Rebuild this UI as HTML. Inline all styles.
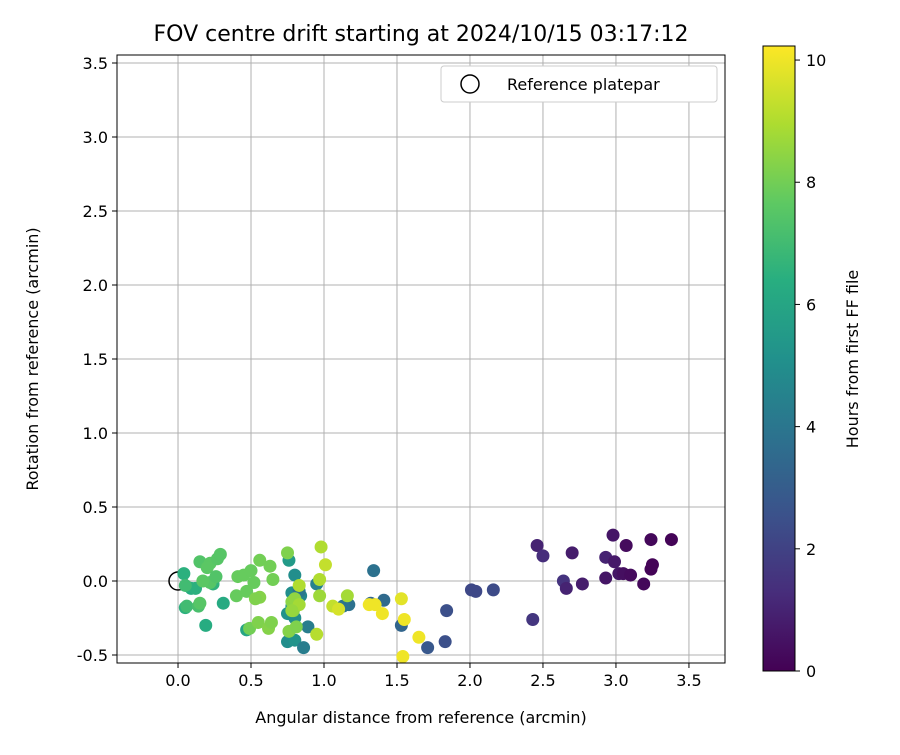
<!DOCTYPE html>
<html><head><meta charset="utf-8"><style>
body{margin:0;background:#fff;font-family:"Liberation Sans","DejaVu Sans",sans-serif}
svg text{font-family:"DejaVu Sans","Liberation Sans",sans-serif;fill:#000}
</style></head><body>
<svg id="chart" width="900" height="750" viewBox="0 0 900 750">
<defs><linearGradient id="vir" x1="0" y1="1" x2="0" y2="0">
<stop offset="0" stop-color="#440154"/><stop offset="0.125" stop-color="#472d7b"/><stop offset="0.25" stop-color="#3b528b"/><stop offset="0.375" stop-color="#2c728e"/><stop offset="0.5" stop-color="#21918c"/><stop offset="0.625" stop-color="#28ae80"/><stop offset="0.75" stop-color="#5ec962"/><stop offset="0.875" stop-color="#addc30"/><stop offset="1" stop-color="#fde725"/></linearGradient></defs>
<text x="421" y="41" font-size="22" text-anchor="middle">FOV centre drift starting at 2024/10/15 03:17:12</text>
<g id="grid"></g><g id="pts"></g><g id="axes"></g>
<text x="421" y="723" font-size="16" text-anchor="middle">Angular distance from reference (arcmin)</text>
<text transform="translate(38,359) rotate(-90)" font-size="16" text-anchor="middle">Rotation from reference (arcmin)</text>
<g>
<rect x="441" y="66" width="276" height="36" rx="3" fill="#fff" stroke="#ccc"/>
<circle cx="470" cy="84" r="9" fill="none" stroke="#000" stroke-width="1.5"/>
<text x="507" y="90" font-size="16">Reference platepar</text></g>
<rect x="763" y="46" width="32" height="625" fill="url(#vir)" stroke="#000" stroke-width="1"/>
<g id="cbticks"></g>
<text transform="translate(858,359) rotate(-90)" font-size="16" text-anchor="middle">Hours from first FF file</text>
</svg>
<script>
const xTicks=[0.0,0.5,1.0,1.5,2.0,2.5,3.0,3.5];
const yTicks=[-0.5,0.0,0.5,1.0,1.5,2.0,2.5,3.0,3.5];
const cTicks=[0,2,4,6,8,10];
const px=[2.46,2.50,2.43,2.64,2.66,2.70,2.77,2.93,2.93,2.98,2.99,3.02,3.05,3.07,3.10,3.19,3.24,3.24,3.25,3.38,2.01,2.04,2.16,1.84,1.83,1.71,1.53,1.41,1.34,1.32,1.17,1.13,0.76,0.80,0.78,0.82,0.84,0.78,0.75,0.80,0.75,0.80,0.86,0.89,0.83,0.95,0.47,0.31,0.19,0.04,0.05,0.09,0.12,0.24,0.15,0.22,0.27,0.29,0.20,0.22,0.17,0.26,0.05,0.06,0.14,0.15,0.41,0.45,0.50,0.52,0.40,0.47,0.56,0.63,0.65,0.56,0.53,0.49,0.55,0.62,0.64,0.75,0.78,0.79,0.80,0.83,0.76,0.81,0.78,0.83,0.97,0.97,0.95,0.98,1.01,1.16,1.06,1.10,1.31,1.35,1.40,1.53,1.55,1.65,1.54];
const py=[0.24,0.17,-0.26,0.0,-0.05,0.19,-0.02,0.16,0.02,0.31,0.13,0.05,0.05,0.24,0.04,-0.02,0.28,0.08,0.11,0.28,-0.06,-0.07,-0.06,-0.20,-0.41,-0.45,-0.30,-0.13,0.07,-0.15,-0.16,-0.17,0.14,0.04,-0.08,-0.13,-0.10,-0.17,-0.22,-0.25,-0.41,-0.40,-0.45,-0.31,-0.07,-0.02,-0.33,-0.15,-0.30,0.05,-0.18,-0.05,-0.05,-0.02,0.13,0.12,0.15,0.18,0.09,-0.01,0.0,0.03,-0.03,-0.17,-0.17,-0.15,0.03,0.04,0.07,-0.01,-0.10,-0.07,0.14,0.10,0.01,-0.11,-0.12,-0.32,-0.28,-0.32,-0.28,0.19,-0.14,-0.20,-0.12,-0.16,-0.34,-0.31,-0.20,-0.03,0.01,-0.10,-0.36,0.23,0.11,-0.10,-0.17,-0.19,-0.16,-0.16,-0.22,-0.12,-0.26,-0.38,-0.51];
const ph=[1.0,1.3,1.6,1.5,1.0,0.8,0.8,1.0,0.6,0.6,0.7,0.6,0.4,0.3,0.3,0.2,0.2,0.1,0.1,0.1,2.2,2.2,2.3,2.5,2.5,2.8,3.3,3.5,3.8,3.3,3.8,3.9,5.5,5.0,5.0,4.5,4.6,5.2,5.2,5.0,5.0,5.2,4.3,4.3,4.0,4.5,6.0,6.2,6.3,6.5,6.5,6.3,6.5,6.6,7.4,7.6,7.5,7.5,7.6,7.5,7.6,7.4,7.0,7.0,7.2,7.5,7.8,7.8,7.8,7.8,7.8,7.8,8.0,8.0,8.0,8.3,8.2,8.0,8.2,8.3,8.2,8.2,8.4,8.4,8.5,8.8,8.3,8.2,8.6,9.0,9.0,8.7,9.1,9.0,9.3,8.8,9.3,9.6,10,10,10,9.8,10,10,10];
const X0=117,X1=725,Y0=663,Y1=55,xmin=-0.418,xmax=3.747,ymin=-0.554,ymax=3.554,cmax=10.23;
const sx=v=>X0+(v-xmin)/(xmax-xmin)*(X1-X0);
const sy=v=>Y0-(v-ymin)/(ymax-ymin)*(Y0-Y1);
const sc=v=>671-v/cmax*625;
const vir=[[68,1,84],[71,45,123],[59,82,139],[44,114,142],[33,145,140],[40,174,128],[94,201,98],[173,220,48],[253,231,37]];
function col(h){let t=Math.max(0,Math.min(1,h/cmax))*8,i=Math.min(7,Math.floor(t)),f=t-i;const a=vir[i],b=vir[i+1];return`rgb(${a.map((c,k)=>Math.round(c+(b[k]-c)*f)).join(',')})`;}
const NS='http://www.w3.org/2000/svg';
function mk(t,at,p){const e=document.createElementNS(NS,t);for(const k in at)e.setAttribute(k,at[k]);p.appendChild(e);return e;}
const g=document.getElementById('grid'),ax=document.getElementById('axes'),pts=document.getElementById('pts'),cb=document.getElementById('cbticks');
xTicks.forEach(v=>{const x=sx(v);
const l=mk('line',{x1:x,x2:x,y1:Y1,y2:Y0,stroke:'#b0b0b0','stroke-width':1},g);


mk('line',{x1:x,x2:x,y1:Y0,y2:Y0+5,stroke:'#000'},ax);
const t=mk('text',{x:x,y:Y0+23,'font-size':16,'text-anchor':'middle'},ax);t.textContent=v.toFixed(1);

});
yTicks.forEach(v=>{const y=sy(v);
const l=mk('line',{x1:X0,x2:X1,y1:y,y2:y,stroke:'#b0b0b0','stroke-width':1},g);


mk('line',{x1:X0-5,x2:X0,y1:y,y2:y,stroke:'#000'},ax);
const t=mk('text',{x:X0-9,y:y+6,'font-size':16,'text-anchor':'end'},ax);t.textContent=v.toFixed(1);

});
const fr=mk('rect',{x:X0,y:Y1,width:X1-X0,height:Y0-Y1,fill:'none',stroke:'#000','stroke-width':1},ax);


const ref=mk('circle',{cx:sx(0),cy:sy(0),r:9,fill:'none',stroke:'#000','stroke-width':1.5},pts);


px.forEach((v,i)=>{const c=mk('circle',{cx:sx(v),cy:sy(py[i]),r:6.5,fill:col(ph[i])},pts);

});
cTicks.forEach(v=>{const y=sc(v);mk('line',{x1:795,x2:800,y1:y,y2:y,stroke:'#000'},cb);
const t=mk('text',{x:806,y:y+6,'font-size':16},cb);t.textContent=v;

});
</script>
</body></html>
